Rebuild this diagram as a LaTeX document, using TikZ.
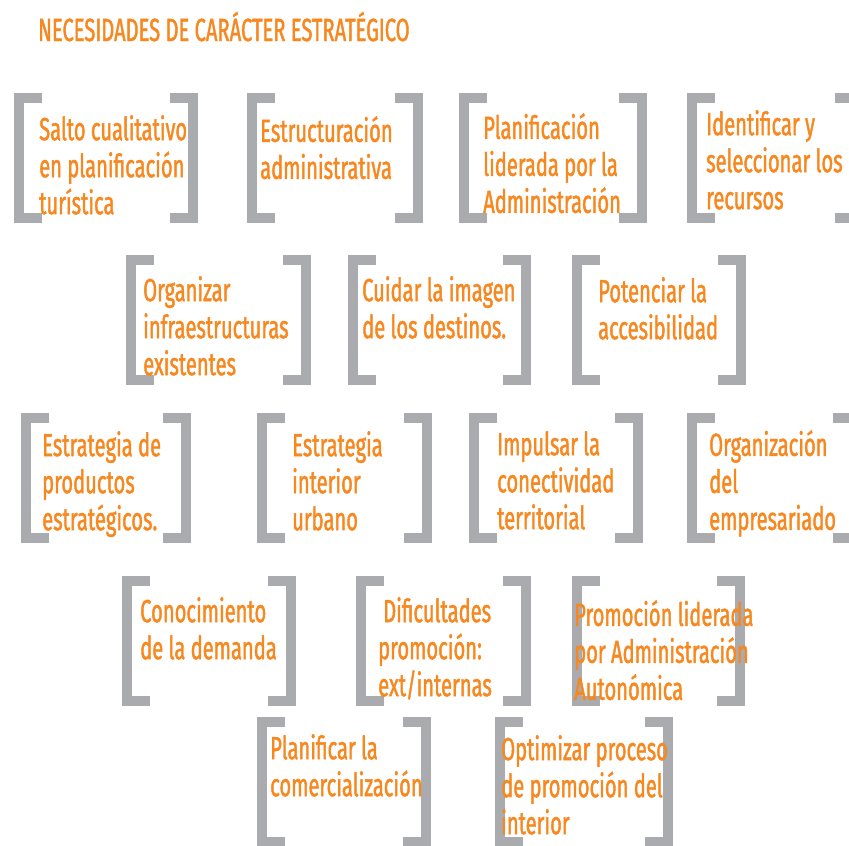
\documentclass[tikz,border=0pt]{standalone}
\usepackage{fontspec}
\setmainfont[FakeStretch=0.63,FakeBold=1.3]{Fira Sans}
\definecolor{needorange}{HTML}{F7871F}
\definecolor{bracketgray}{HTML}{A9ABAE}
\tikzset{
  needtext/.style={anchor=north west,inner sep=0pt,align=left,text=needorange,
    font=\fontsize{32}{37}\selectfont},
  bracketline/.style={draw=bracketgray,line width=10pt,line join=miter}
}
% #1 name, #2 left bracket, #3 right bracket, #4 top, #5 text x, #6 text top, #7 text
\newcommand{\needbox}[7]{
  \draw[bracketline] (#2+28,-#4-5) -| (#2+5,-#4-125) -- (#2+28,-#4-125);
  \draw[bracketline] (#3,-#4-5) -| (#3+23,-#4-125) -- (#3,-#4-125);
  \node[needtext] (#1) at (#5,-#6) {#7};
}

\begin{document}
\begin{tikzpicture}[x=1pt,y=1pt]
  \useasboundingbox (0,0) rectangle (849,-846);
  \clip (0,0) rectangle (849,-846);
  \node[needtext,anchor=base west] (title) at (38,-41)
    {NECESIDADES DE CARÁCTER ESTRATÉGICO};
  \needbox{salto}{14}{170}{93}{39}{115}{Salto cualitativo\\en planificación\\turística}
  \needbox{estruc}{247}{395}{93}{260}{116}{Estructuración\\administrativa}
  \needbox{planif}{459}{619}{93}{483}{113}{Planificación\\liderada por la\\Administración}
  \needbox{recur}{687}{835}{93}{706}{110}{Identificar y\\seleccionar los\\recursos}
  \needbox{infra}{126}{283}{255}{143}{276}{Organizar\\infraestructuras\\existentes}
  \needbox{imagen}{348}{503}{255}{362}{276}{Cuidar la imagen\\de los destinos.}
  \needbox{acces}{572}{718}{255}{598}{277}{Potenciar la\\accesibilidad}
  \needbox{prod}{21}{163}{413}{42}{431}{Estrategia de\\productos\\estratégicos.}
  \needbox{urbano}{257}{404}{413}{292}{431}{Estrategia\\interior\\urbano}
  \needbox{conect}{469}{615}{413}{497}{431}{Impulsar la\\conectividad\\territorial}
  \needbox{empres}{687}{833}{413}{709}{430}{Organización\\del\\empresariado}
  \needbox{demanda}{122}{268}{576}{140}{597}{Conocimiento\\de la demanda}
  \needbox{dific}{356}{503}{576}{378}{597}{\hspace*{5pt}Dificultades\\promoción:\\ext/internas}
  \needbox{autono}{572}{717}{576}{574}{600}{Promoción liderada\\por Administración\\Autonómica}
  \needbox{comerc}{257}{403}{717}{270}{734}{Planificar la\\comercialización}
  \needbox{optim}{495}{645}{717}{501}{735}{Optimizar proceso\\de promoción del\\interior}
\end{tikzpicture}
\end{document}
